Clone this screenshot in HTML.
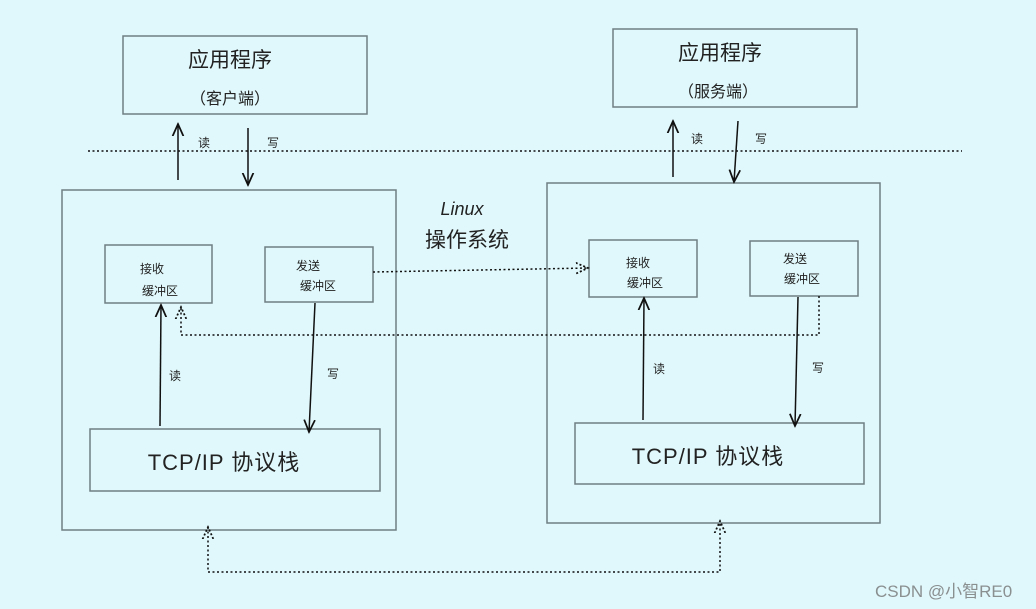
<!DOCTYPE html>
<html><head><meta charset="utf-8"><style>
html,body{margin:0;padding:0;background:#e0f8fb;}
svg{display:block}
text{font-family:"Liberation Sans","Noto Sans CJK SC",sans-serif;fill:#222}
</style></head><body>
<svg width="1036" height="609" viewBox="0 0 1036 609" xmlns="http://www.w3.org/2000/svg">
<defs>
<marker id="a" viewBox="0 0 10 10" refX="9" refY="5" markerWidth="9" markerHeight="9" orient="auto-start-reverse">
<path d="M0,1 L9,5 L0,9" fill="none" stroke="#111" stroke-width="1.3"/></marker>
<marker id="d" viewBox="0 0 10 10" refX="9" refY="5" markerWidth="9" markerHeight="9" orient="auto-start-reverse">
<path d="M0,1 L9,5 L0,9" fill="none" stroke="#111" stroke-width="1.3" stroke-dasharray="1.5,1.5"/></marker>
</defs>
<rect width="1036" height="609" fill="#e0f8fb"/>
<g fill="none" stroke="#6f7f82" stroke-width="1.5">
<rect x="123" y="36" width="244" height="78"/>
<rect x="613" y="29" width="244" height="78"/>
<rect x="62" y="190" width="334" height="340"/>
<rect x="547" y="183" width="333" height="340"/>
<rect x="105" y="245" width="107" height="58"/>
<rect x="265" y="247" width="108" height="55"/>
<rect x="589" y="240" width="108" height="57"/>
<rect x="750" y="241" width="108" height="55"/>
<rect x="90" y="429" width="290" height="62"/>
<rect x="575" y="423" width="289" height="61"/>
</g>
<g stroke="#111" stroke-width="1.5" fill="none">
<line x1="88" y1="151" x2="962" y2="151" stroke-dasharray="2,2.5"/>
<line x1="178" y1="180" x2="178" y2="124" marker-end="url(#a)"/>
<line x1="248" y1="128" x2="248" y2="185" marker-end="url(#a)"/>
<line x1="673" y1="177" x2="673" y2="121" marker-end="url(#a)"/>
<line x1="738" y1="121" x2="734" y2="182" marker-end="url(#a)"/>
<line x1="160" y1="426" x2="161" y2="305" marker-end="url(#a)"/>
<line x1="315" y1="303" x2="309" y2="432" marker-end="url(#a)"/>
<line x1="643" y1="420" x2="644" y2="298" marker-end="url(#a)"/>
<line x1="798" y1="297" x2="795" y2="426" marker-end="url(#a)"/>
<line x1="373" y1="272" x2="588" y2="268" stroke-dasharray="2,2.5" marker-end="url(#d)"/>
<polyline points="819,296 819,335 181,335 181,307" stroke-dasharray="2,2.5" marker-end="url(#d)"/>
<polyline points="208,527 208,572 720,572 720,521" stroke-dasharray="2,2.5" marker-end="url(#d)" marker-start="url(#d)"/>
</g>
<g font-size="21" text-anchor="middle">
<text x="230" y="67">应用程序</text>
<text x="720" y="60">应用程序</text>
<text x="467" y="247">操作系统</text>
</g>
<g font-size="16" text-anchor="middle">
<text x="230" y="104">（客户端）</text>
<text x="718" y="97">（服务端）</text>
</g>
<text x="462" y="215" font-size="18" font-style="italic" text-anchor="middle">Linux</text>
<g font-size="12">
<text x="198" y="147">读</text><text x="267" y="147">写</text>
<text x="691" y="143">读</text><text x="755" y="143">写</text>
<text x="169" y="380">读</text><text x="327" y="378">写</text>
<text x="653" y="373">读</text><text x="812" y="372">写</text>
</g>
<g font-size="12" text-anchor="middle">
<text x="152" y="273">接收</text><text x="160" y="295">缓冲区</text>
<text x="308" y="270">发送</text><text x="318" y="290">缓冲区</text>
<text x="638" y="267">接收</text><text x="645" y="287">缓冲区</text>
<text x="795" y="263">发送</text><text x="802" y="283">缓冲区</text>
</g>
<g font-size="22" text-anchor="middle" letter-spacing="1">
<text x="224" y="470">TCP/IP 协议栈</text>
<text x="708" y="464">TCP/IP 协议栈</text>
</g>
<text x="875" y="597" font-size="17" style="fill:#8a8f90">CSDN @小智RE0</text>
</svg>
</body></html>
